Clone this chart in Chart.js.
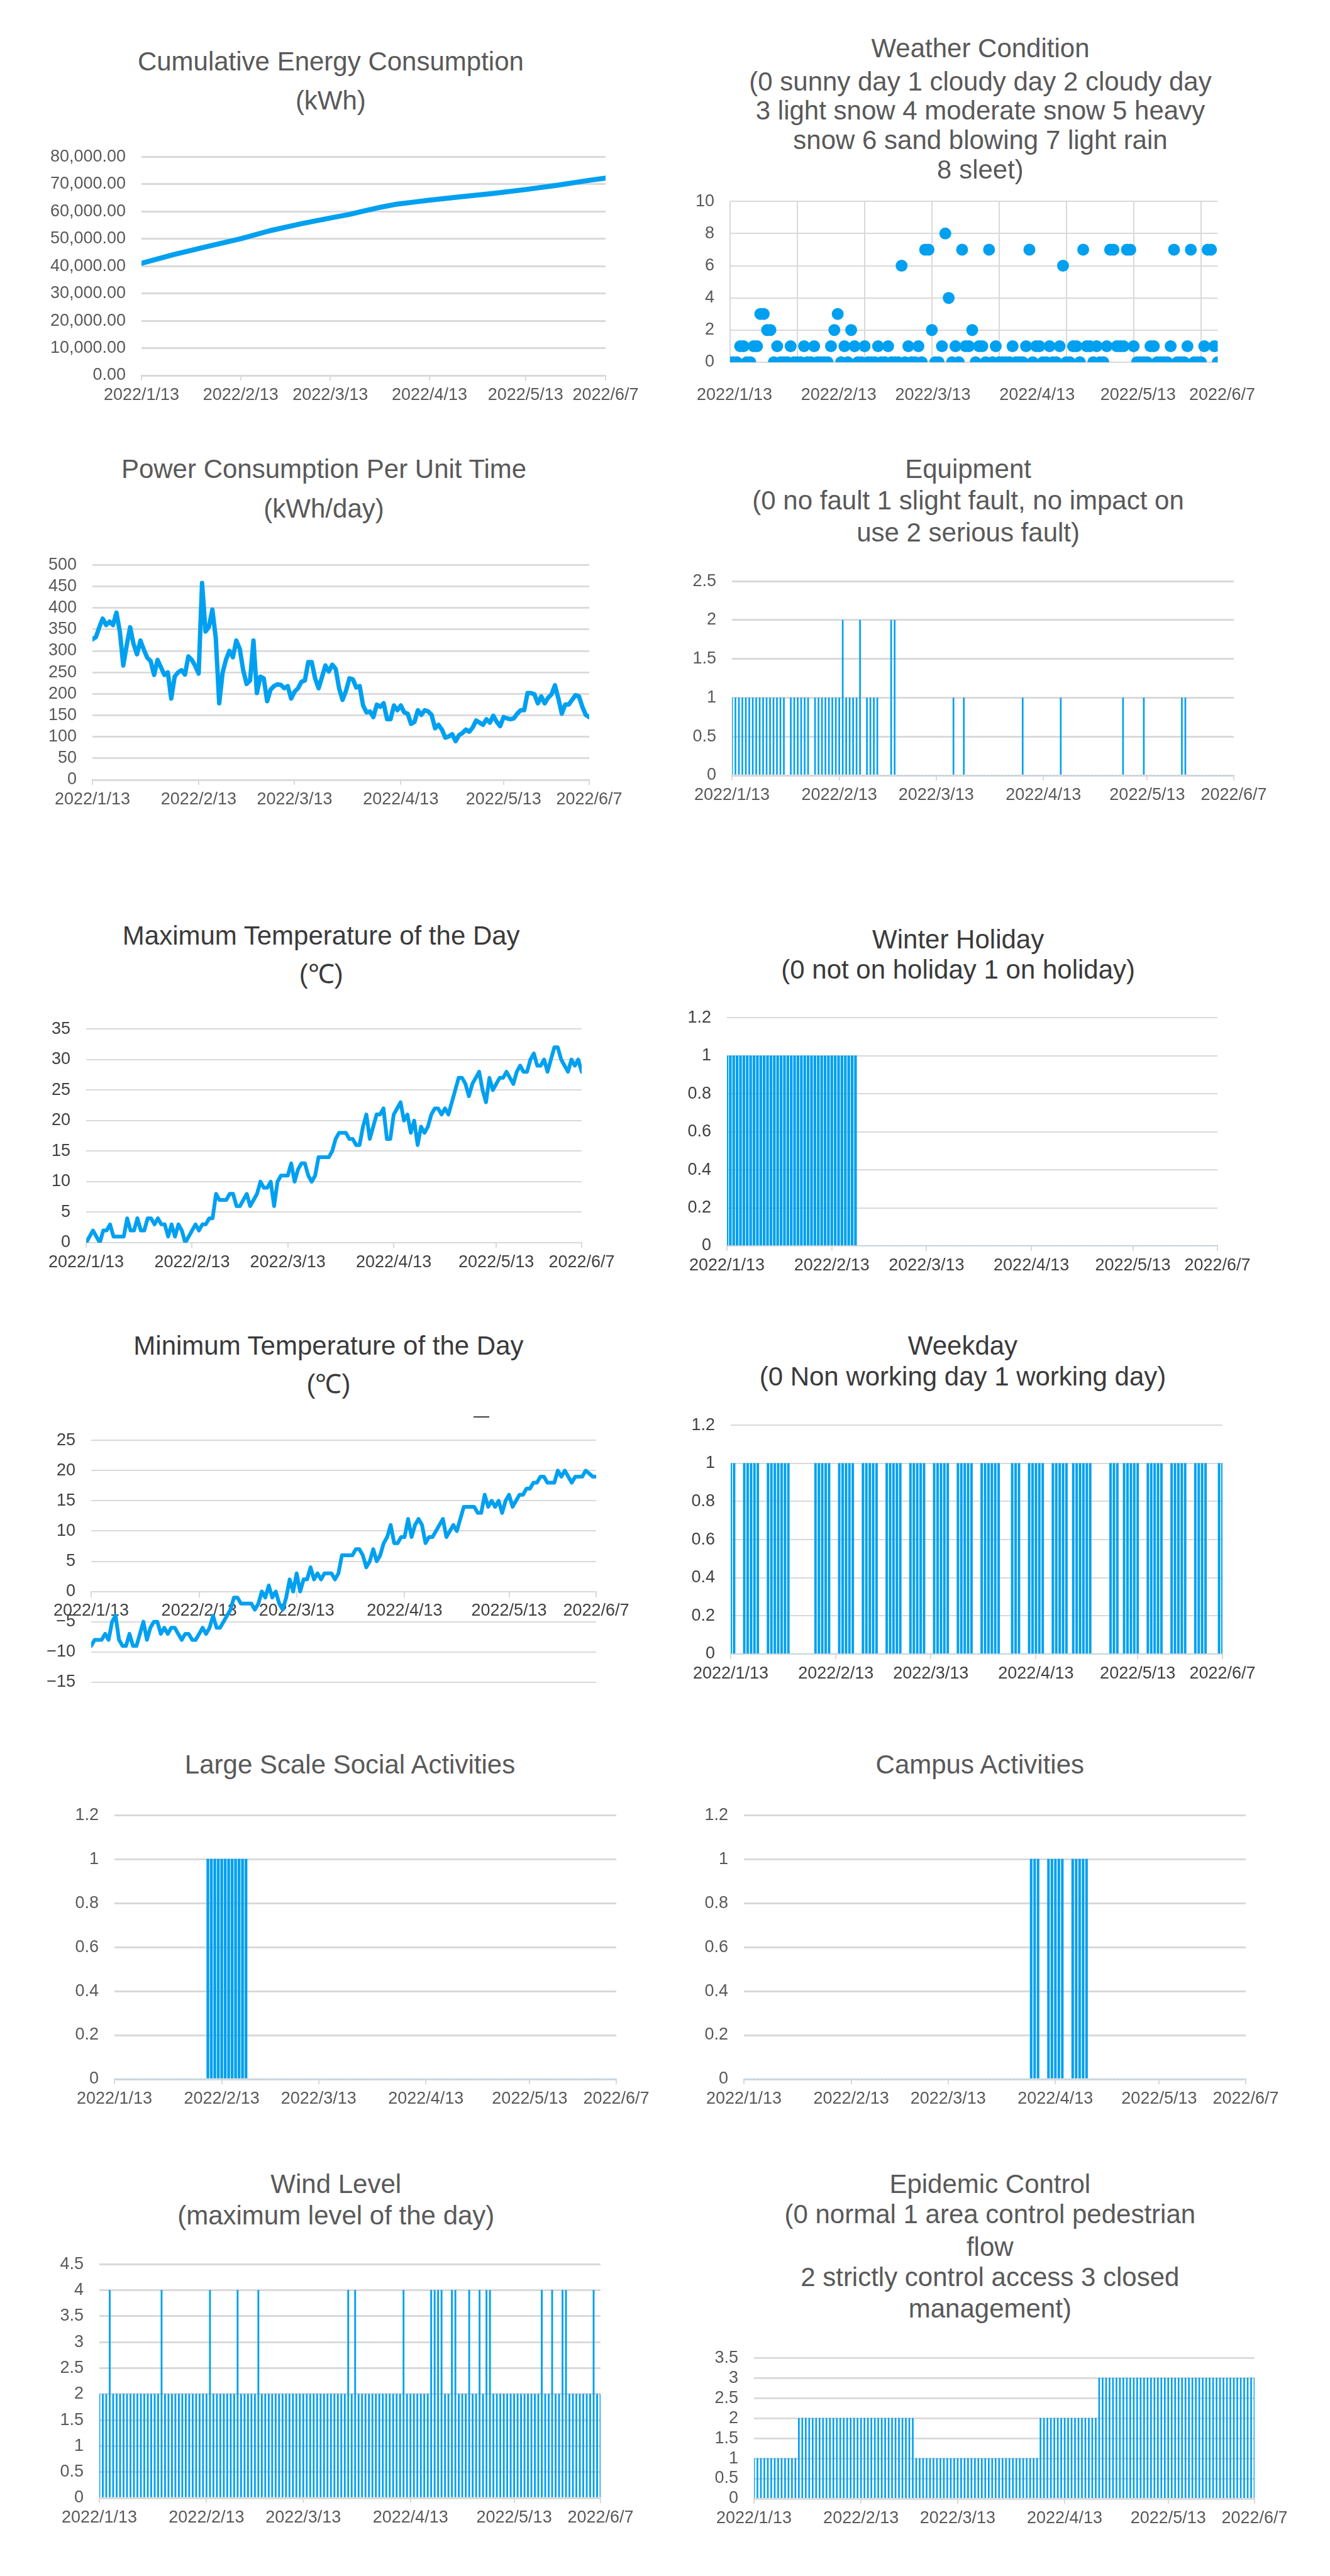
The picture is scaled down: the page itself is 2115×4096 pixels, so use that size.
<!DOCTYPE html>
<html>
<head>
<meta charset="utf-8">
<title>Campus energy and condition charts</title>
<script src="https://cdn.jsdelivr.net/npm/chart.js@4.4.1/dist/chart.umd.min.js"></script>
<style>
  html, body { margin: 0; padding: 0; background: #fff; }
  body { width: 2115px; height: 4096px; position: relative; overflow: hidden;
         font-family: 'Liberation Sans', Arial, sans-serif; }
  .title { position: absolute; transform: translate(-50%, -50%); white-space: nowrap;
           font-size: 42px; line-height: 1; color: #595959; }
  .title.dark { color: #3a3a3a; }
  canvas { position: absolute; }
  .stray { position: absolute; height: 2px; background: #404040; }
</style>
</head>
<body>
<script>
// day 0 = 2022/1/13 ... day 145 = 2022/6/7
const days = Array.from({ length: 146 }, (_, i) => i);

const tickDays = [0, 31, 59, 90, 120, 145];
const tickLabels = ['2022/1/13', '2022/2/13', '2022/3/13', '2022/4/13', '2022/5/13', '2022/6/7'];
const weatherGridDays = [0, 20, 40, 60, 80, 100, 120, 140];

// cumulative energy, sampled along the curve
const cumulativeDays = [0, 10, 20, 31, 40, 50, 59, 65, 70, 75, 80, 85, 90, 100, 110, 120, 130, 140, 145];
const cumulativeKwh = [41000, 44200, 47000, 50000, 52900, 55500, 57600, 58900, 60300, 61600,
                       62700, 63400, 64100, 65400, 66600, 68000, 69600, 71400, 72200];

const weatherCode = [
  0,0,0,1,1,0,0,1,1,3,  3,2,2,0,1,0,0,0,1,0,  0,0,1,0,0,1,0,0,0,0,
  1,2,3,0,1,0,2,1,0,0,  1,0,0,0,1,0,0,1,0,0,  0,6,0,1,0,0,1,0,7,7,
  2,0,0,1,8,4,0,1,0,7,  1,1,2,0,1,1,0,7,0,1,  0,0,0,0,1,0,0,0,1,7,
  0,1,1,0,0,1,0,0,1,6,  0,0,1,1,0,7,1,1,0,1,  0,0,1,7,7,1,1,1,7,7,
  1,0,0,0,0,1,1,0,0,0,  0,1,7,0,0,0,1,7,0,0,  0,1,7,7,1,0
];

const powerPerDay = [
  327,332,355,375,360,368,360,389,345,266,  313,355,316,292,324,303,284,276,244,279,
  262,244,250,189,240,250,255,245,287,279,  265,247,458,345,356,396,330,178,250,280,
  300,285,324,305,255,223,231,324,202,240,  236,183,210,218,222,221,213,218,189,205,
  213,228,231,274,274,236,213,239,266,252,  268,258,213,186,207,236,234,215,218,173,
  157,159,146,175,170,178,141,141,173,162,  173,157,154,130,135,162,151,162,159,151,
  120,128,117,98,101,106,90,104,109,117,    112,122,138,133,128,141,133,149,135,125,
  146,143,141,143,154,162,162,202,202,199,  178,194,178,191,199,220,189,154,175,175,
  186,197,194,170,151,146
];

const equipmentState = [
  1,1,1,1,1,1,1,1,1,1,  1,1,1,1,1,1,0,1,1,1,  1,1,1,0,1,1,1,1,1,1,
  1,1,2,1,1,1,1,2,0,1,  1,1,1,0,0,0,2,2,0,0,  0,0,0,0,0,0,0,0,0,0,
  0,0,0,0,1,0,0,1,0,0,  0,0,0,0,0,0,0,0,0,0,  0,0,0,0,1,0,0,0,0,0,
  0,0,0,0,0,1,0,0,0,0,  0,0,0,0,0,0,0,0,0,0,  0,0,0,1,0,0,0,0,0,1,
  0,0,0,0,0,0,0,0,0,0,  1,1,0,0,0,0,0,0,0,0,  0,0,0,0,0,0
];

const maxTemp = [
  0,1,2,1,0,2,2,3,1,1,  1,1,4,2,2,4,2,2,4,4,  3,4,3,3,1,3,1,3,2,0,
  1,2,3,2,3,3,4,4,8,7,  7,7,8,8,6,6,7,8,6,7,  8,10,9,9,10,6,10,11,11,11,
  13,10,12,13,13,11,10,11,14,14,  14,14,15,17,18,18,18,17,17,16,
  16,19,21,17,19,21,21,22,17,17,  21,22,23,20,21,18,20,16,19,18,
  19,21,22,22,21,22,21,23,25,27,  27,26,24,26,27,28,25,23,27,25,
  26,27,27,28,27,26,28,29,28,28,  30,31,29,29,30,28,30,32,32,30,
  29,28,30,29,30,28
];

const winterHoliday = [
  1,1,1,1,1,1,1,1,1,1,  1,1,1,1,1,1,1,1,1,1,  1,1,1,1,1,1,1,1,1,1,
  1,1,1,1,1,1,1,1,1,0,  0,0,0,0,0,0,0,0,0,0,  0,0,0,0,0,0,0,0,0,0,
  0,0,0,0,0,0,0,0,0,0,  0,0,0,0,0,0,0,0,0,0,  0,0,0,0,0,0,0,0,0,0,
  0,0,0,0,0,0,0,0,0,0,  0,0,0,0,0,0,0,0,0,0,  0,0,0,0,0,0,0,0,0,0,
  0,0,0,0,0,0,0,0,0,0,  0,0,0,0,0,0,0,0,0,0,  0,0,0,0,0,0
];

const minTemp = [
  -9,-8,-8,-8,-7,-8,-5,-4,-8,-9,  -9,-7,-9,-9,-7,-5,-8,-6,-5,-5,
  -7,-6,-7,-6,-6,-7,-8,-7,-7,-8,  -8,-7,-6,-7,-6,-4,-6,-6,-5,-4,
  -3,-1,-1,-2,-2,-2,-2,-3,-2,0,   -1,1,-1,0,-2,-3,-1,2,0,3,
  0,2,2,4,2,3,2,3,3,3,            2,3,6,6,6,6,7,7,6,4,
  5,7,5,6,8,9,11,8,8,9,           9,12,9,11,12,11,8,9,9,10,
  11,12,9,10,11,10,12,14,14,14,   14,13,13,16,14,15,14,15,13,15,
  16,14,15,16,16,17,17,18,18,19,  19,18,18,18,20,19,20,19,18,19,
  19,19,20,19.5,19,19
];

const workingDay = [
  1,1,0,0,1,1,1,1,1,0,  0,1,1,1,1,1,1,1,0,0,  0,0,0,0,0,1,1,1,1,1,
  0,0,1,1,1,1,1,0,0,1,  1,1,1,1,0,0,1,1,1,1,  1,0,0,1,1,1,1,1,0,0,
  1,1,1,1,1,0,0,1,1,1,  1,1,0,0,1,1,1,1,1,1,  0,0,0,1,1,1,0,0,1,1,
  1,1,1,0,0,1,1,1,1,1,  0,1,1,1,1,1,1,0,0,0,  0,0,1,1,1,0,1,1,1,1,
  1,0,0,1,1,1,1,1,0,0,  1,1,1,1,1,0,0,1,1,1,  1,0,0,0,1,1
];

const socialActivity = [
  0,0,0,0,0,0,0,0,0,0,  0,0,0,0,0,0,0,0,0,0,  0,0,0,0,0,0,0,1,1,1,
  1,1,1,1,1,1,1,1,1,0,  0,0,0,0,0,0,0,0,0,0,  0,0,0,0,0,0,0,0,0,0,
  0,0,0,0,0,0,0,0,0,0,  0,0,0,0,0,0,0,0,0,0,  0,0,0,0,0,0,0,0,0,0,
  0,0,0,0,0,0,0,0,0,0,  0,0,0,0,0,0,0,0,0,0,  0,0,0,0,0,0,0,0,0,0,
  0,0,0,0,0,0,0,0,0,0,  0,0,0,0,0,0,0,0,0,0,  0,0,0,0,0,0
];

const campusActivity = [
  0,0,0,0,0,0,0,0,0,0,  0,0,0,0,0,0,0,0,0,0,  0,0,0,0,0,0,0,0,0,0,
  0,0,0,0,0,0,0,0,0,0,  0,0,0,0,0,0,0,0,0,0,  0,0,0,0,0,0,0,0,0,0,
  0,0,0,0,0,0,0,0,0,0,  0,0,0,0,0,0,0,0,0,0,  0,0,0,1,1,1,0,0,1,1,
  1,1,1,0,0,1,1,1,1,1,  0,0,0,0,0,0,0,0,0,0,  0,0,0,0,0,0,0,0,0,0,
  0,0,0,0,0,0,0,0,0,0,  0,0,0,0,0,0,0,0,0,0,  0,0,0,0,0,0
];

const windLevel = [
  2,2,2,4,2,2,2,2,2,2,  2,2,2,2,2,2,2,2,4,2,  2,2,2,2,2,2,2,2,2,2,
  2,2,4,2,2,2,2,2,2,2,  4,2,2,2,2,2,4,2,2,2,  2,2,2,2,2,2,2,2,2,2,
  2,2,2,2,2,2,2,2,2,2,  2,2,4,2,4,2,2,2,2,2,  2,2,2,2,2,2,2,2,4,2,
  2,2,2,2,2,2,4,4,4,4,  2,2,4,4,2,2,2,4,2,2,  4,2,4,4,2,2,2,2,2,2,
  2,2,2,2,2,2,2,2,4,2,  2,4,2,2,4,4,2,2,2,2,  2,2,2,4,2,2
];

const epidemicLevel = [
  1,1,1,1,1,1,1,1,1,1,  1,1,1,2,2,2,2,2,2,2,  2,2,2,2,2,2,2,2,2,2,
  2,2,2,2,2,2,2,2,2,2,  2,2,2,2,2,2,2,1,1,1,  1,1,1,1,1,1,1,1,1,1,
  1,1,1,1,1,1,1,1,1,1,  1,1,1,1,1,1,1,1,1,1,  1,1,1,2,2,2,2,2,2,2,
  2,2,2,2,2,2,2,2,2,2,  3,3,3,3,3,3,3,3,3,3,  3,3,3,3,3,3,3,3,3,3,
  3,3,3,3,3,3,3,3,3,3,  3,3,3,3,3,3,3,3,3,3,  3,3,3,3,3,3
];

// ---- drawing ----
const S = 0.747;               // reference px -> page px
const FONT = "'Liberation Sans', Arial, sans-serif";
const BLUE = '#00A0F0';
const GRID = '#D9D9D9';
const TEXT = '#595959';
const TEXT_DARK = '#404040';

Chart.defaults.font.family = FONT;

function labelFor(v) {
  const i = tickDays.indexOf(v);
  return i >= 0 ? tickLabels[i] : '';
}

function addTitle(lines, cx, ys, dark) {
  lines.forEach((t, i) => {
    const d = document.createElement('div');
    d.className = 'title' + (dark ? ' dark' : '');
    d.textContent = t;
    d.style.left = (cx * S) + 'px';
    d.style.top = (ys[i] * S) + 'px';
    document.body.appendChild(d);
  });
}

function plainNum(v) { return String(+v.toFixed(2)); }

function buildChart(p) {
  const L = p.L * S, R = p.R * S, T = p.T * S, B = p.B * S;
  const yAxisW = p.yAxisW || 120;
  const padTop = 24, padRight = 70;
  const xAxisH = p.xAxisH != null ? p.xAxisH : 64;
  const padBottom = p.padBottom || 0;
  const plotW = Math.round(R - L), plotH = Math.round(B - T);

  const c = document.createElement('canvas');
  c.width = yAxisW + plotW + padRight;
  c.height = padTop + plotH + xAxisH + padBottom;
  c.style.left = Math.round(L - yAxisW) + 'px';
  c.style.top = Math.round(T - padTop) + 'px';
  document.body.appendChild(c);

  addTitle(p.title, p.titleX, p.titleY, p.dark);

  const color = p.dark ? TEXT_DARK : TEXT;
  const font = { family: FONT, size: 27 };

  const x = {
    type: 'linear', min: 0, max: 145, offset: false,
    afterBuildTicks: s => { s.ticks = tickDays.map(v => ({ value: v })); },
    afterFit: s => { s.height = xAxisH; },
    grid: { offset: false, drawOnChartArea: false, drawTicks: true, tickLength: 8, color: GRID, lineWidth: 2 },
    border: { display: true, color: GRID, width: p.gridW },
    ticks: { autoSkip: false, maxRotation: 0, minRotation: 0, padding: 7, color, font, callback: v => labelFor(v) }
  };
  if (p.xPatch) p.xPatch(x);

  const y = {
    min: p.yMin, max: p.yMax,
    afterFit: s => { s.width = yAxisW; },
    grid: { color: GRID, lineWidth: p.gridW, drawTicks: false },
    border: { display: false },
    ticks: { stepSize: p.step, autoSkip: false, padding: 25, color, font, callback: p.yFmt || plainNum }
  };

  return new Chart(c, {
    type: p.type,
    data: { labels: p.labels, datasets: [p.dataset] },
    options: {
      responsive: false, animation: false, devicePixelRatio: 1,
      layout: { padding: { top: padTop, right: padRight, left: 0, bottom: padBottom } },
      plugins: { legend: { display: false }, tooltip: { enabled: false }, title: { display: false } },
      events: [],
      scales: { x, y }
    }
  });
}

function lineSet(data, w) {
  return { data, borderColor: BLUE, borderWidth: w, pointRadius: 0, tension: 0,
           borderJoinStyle: 'round', borderCapStyle: 'round', fill: false };
}
function barSet(data, w) {
  return { data, backgroundColor: BLUE, borderWidth: 0, barThickness: w };
}

// Cumulative energy consumption
buildChart({
  type: 'line', L: 300.6, R: 1288.1, T: 311.0, B: 800.0, yAxisW: 160,
  yMin: 0, yMax: 80000, step: 10000, gridW: 3,
  yFmt: v => v.toLocaleString('en-US', { minimumFractionDigits: 2, maximumFractionDigits: 2 }),
  title: ['Cumulative Energy Consumption', '(kWh)'], titleX: 704, titleY: [130.6, 214.3],
  dataset: lineSet(cumulativeDays.map((d, i) => ({ x: d, y: cumulativeKwh[i] })), 8)
});

// Weather condition (scatter)
buildChart({
  type: 'line', L: 1553.9, R: 2616.5, T: 405.7, B: 771.6, xAxisH: 90,
  yMin: 0, yMax: 10, step: 2, gridW: 2,
  title: ['Weather Condition', '(0 sunny day 1 cloudy day 2 cloudy day',
          '3 light snow 4 moderate snow 5 heavy', 'snow 6 sand blowing 7 light rain', '8 sleet)'],
  titleX: 2087, titleY: [103.2, 173.7, 236, 298.3, 361.8],
  labels: days,
  dataset: { data: weatherCode, showLine: false, pointRadius: 9.5, pointBackgroundColor: BLUE,
             pointBorderWidth: 0, borderColor: BLUE },
  xPatch: x => {
    const all = [...new Set([...tickDays, ...weatherGridDays])].sort((a, b) => a - b);
    x.afterBuildTicks = s => { s.ticks = all.map(v => ({ value: v })); };
    x.grid = { offset: false, drawOnChartArea: true, drawTicks: false, lineWidth: 2,
               color: ctx => (ctx.tick && weatherGridDays.includes(ctx.tick.value)) ? GRID : 'rgba(0,0,0,0)' };
    x.ticks.padding = 36;
    x.ticks.labelOffset = 7;
  }
});

// Power consumption per unit time
buildChart({
  type: 'line', L: 197.0, R: 1254.9, T: 1179.3, B: 1659.4,
  yMin: 0, yMax: 500, step: 50, gridW: 2.7,
  title: ['Power Consumption Per Unit Time', '(kWh/day)'], titleX: 689.5, titleY: [998.7, 1082.9],
  labels: days, dataset: lineSet(powerPerDay, 7)
});

// Equipment
buildChart({
  type: 'bar', L: 1558.4, R: 2627.2, T: 1214.5, B: 1650.7,
  yMin: 0, yMax: 2.5, step: 0.5, gridW: 3,
  title: ['Equipment', '(0 no fault 1 slight fault, no impact on', 'use 2 serious fault)'],
  titleX: 2061, titleY: [998.7, 1065, 1133.9],
  labels: days, dataset: barSet(equipmentState, 2)
});

// Maximum temperature
buildChart({
  type: 'line', L: 182.9, R: 1238.4, T: 2167.2, B: 2645.2, dark: true,
  yMin: 0, yMax: 35, step: 5, gridW: 2,
  title: ['Maximum Temperature of the Day', '(℃)'], titleX: 683.7, titleY: [1992.1, 2074.2],
  labels: days, dataset: lineSet(maxTemp, 6)
});

// Winter holiday
buildChart({
  type: 'bar', L: 1547.7, R: 2592.4, T: 2142.8, B: 2651.2, dark: true,
  yMin: 0, yMax: 1.2, step: 0.2, gridW: 2,
  title: ['Winter Holiday', '(0 not on holiday 1 on holiday)'], titleX: 2039.7, titleY: [1999.6, 2064.2],
  labels: days, dataset: barSet(winterHoliday, 3.6)
});

// Minimum temperature (category axis crosses at 0)
buildChart({
  type: 'line', L: 193.7, R: 1269.0, T: 3042.9, B: 3606.6, dark: true, xAxisH: 0, padBottom: 22,
  yMin: -15, yMax: 25, step: 5, gridW: 2,
  yFmt: v => (v < 0 ? '\u2212' + Math.abs(v) : String(v)),
  title: ['Minimum Temperature of the Day', '(℃)'], titleX: 699.4, titleY: [2865, 2946.4],
  labels: days, dataset: lineSet(minTemp, 6),
  xPatch: x => { x.position = { y: 0 }; }
});
const stray = document.createElement('div');
stray.className = 'stray';
stray.style.left = (1008 * S) + 'px';
stray.style.top = (3015 * S) + 'px';
stray.style.width = (33 * S) + 'px';
document.body.appendChild(stray);

// Weekday
buildChart({
  type: 'bar', L: 1555.7, R: 2603.1, T: 3010.3, B: 3519.9, dark: true,
  yMin: 0, yMax: 1.2, step: 0.2, gridW: 2,
  title: ['Weekday', '(0 Non working day 1 working day)'], titleX: 2049.5, titleY: [2865, 2930.1],
  labels: days, dataset: barSet(workingDay, 3.3)
});

// Large scale social activities
buildChart({
  type: 'bar', L: 243.4, R: 1312.1, T: 3840.9, B: 4425.3,
  yMin: 0, yMax: 1.2, step: 0.2, gridW: 3,
  title: ['Large Scale Social Activities'], titleX: 745, titleY: [3756.9],
  labels: days, dataset: barSet(socialActivity, 3.8)
});

// Campus activities
buildChart({
  type: 'bar', L: 1583.4, R: 2652.2, T: 3840.9, B: 4425.3,
  yMin: 0, yMax: 1.2, step: 0.2, gridW: 3,
  title: ['Campus Activities'], titleX: 2086.1, titleY: [3756.9],
  labels: days, dataset: barSet(campusActivity, 3.4)
});

// Wind level
buildChart({
  type: 'bar', L: 211.9, R: 1279.0, T: 4797.0, B: 5318.2,
  yMin: 0, yMax: 4.5, step: 0.5, gridW: 3,
  title: ['Wind Level', '(maximum level of the day)'], titleX: 715.2, titleY: [4649.6, 4716.6],
  labels: days, dataset: barSet(windLevel, 2.2)
});

// Epidemic control
buildChart({
  type: 'bar', L: 1605.7, R: 2671.8, T: 4995.7, B: 5318.2,
  yMin: 0, yMax: 3.5, step: 0.5, gridW: 2.8,
  title: ['Epidemic Control', '(0 normal 1 area control pedestrian', 'flow',
          '2 strictly control access 3 closed', 'management)'],
  titleX: 2107.5, titleY: [4649.6, 4713.9, 4783.6, 4847.9, 4914.8],
  labels: days, dataset: barSet(epidemicLevel, 2)
});
</script>
</body>
</html>
